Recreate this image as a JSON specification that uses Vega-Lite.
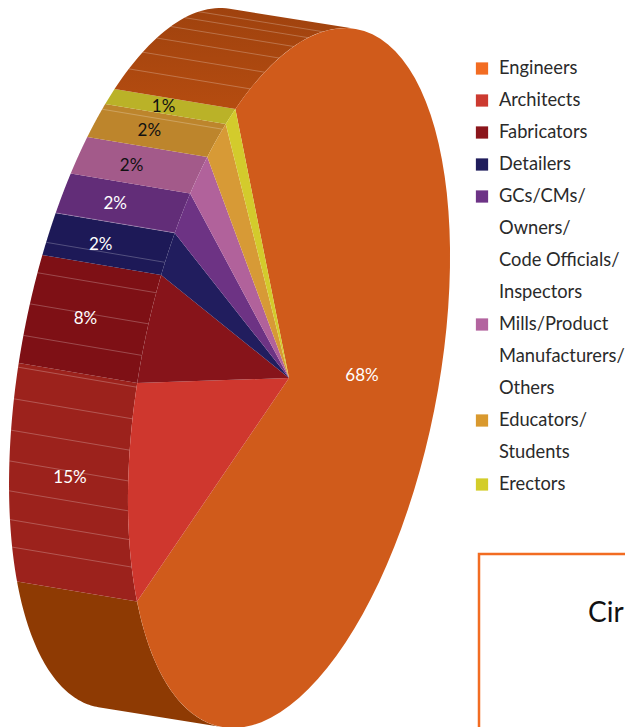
{
"$schema":"https://vega.github.io/schema/vega-lite/v6.json",
"width":625,"height":727,"padding":0,"autosize":{"type":"fit","contains":"padding"},
"background":"white",
"config":{"view":{"stroke":null},"font":"Lato","axis":{"grid":false}},
"datasets":{"shares":[
{"category":"Engineers","share":68},
{"category":"Architects","share":15},
{"category":"Fabricators","share":8},
{"category":"Detailers","share":2},
{"category":"GCs/CMs/|Owners/|Code Officials/|Inspectors","share":2},
{"category":"Mills/Product|Manufacturers/|Others","share":2},
{"category":"Educators/|Students","share":2},
{"category":"Erectors","share":1}
]},
"data":{"name":"shares"},
"transform":[
{"window":[{"op":"sum","field":"share","as":"cum"}]},
{"calculate":"datum.cum/100","as":"s1"},
{"calculate":"datum.s1-datum.share/100","as":"s0"},
{"calculate":"-39.8+360*datum.s0+(datum.s0<=0.68?25.3*datum.s0/0.68:datum.s0<=0.83?25.3-15.1*(datum.s0-0.68)/0.15:datum.s0<=0.91?10.2-10.9*(datum.s0-0.83)/0.08:-0.7*(1-datum.s0)/0.09)","as":"phi0"},
{"calculate":"-39.8+360*datum.s1+(datum.s1<=0.68?25.3*datum.s1/0.68:datum.s1<=0.83?25.3-15.1*(datum.s1-0.68)/0.15:datum.s1<=0.91?10.2-10.9*(datum.s1-0.83)/0.08:-0.7*(1-datum.s1)/0.09)","as":"phi1"}
],
"layer":[
{"transform":[
{"calculate":"max(datum.phi0,183.85)","as":"lo"},{"calculate":"datum.phi1","as":"hi"},
{"calculate":"sequence(0,122)","as":"i"},{"flatten":["i"]},
{"calculate":"datum.i<=60?datum.i/60:(121-datum.i)/60","as":"t"},
{"calculate":"(datum.lo+(datum.hi-datum.lo)*datum.t)*PI/180","as":"a"},
{"calculate":"289+56*cos(datum.a)+151*sin(datum.a)+(datum.i<=60?0:-125-6.5*sin(datum.a))","as":"px"},
{"calculate":"378-350*cos(datum.a)+(datum.i<=60?0:-20)","as":"py"}],
"mark":{"type":"line","filled":true,"strokeWidth":0},
"encoding":{
"x":{"field":"px","type":"quantitative","axis":null,"scale":{"domain":[0,625],"range":[0,625],"nice":false,"zero":false}},
"y":{"field":"py","type":"quantitative","axis":null,"scale":{"domain":[0,727],"range":[0,727],"nice":false,"zero":false}},
"order":{"field":"i"},
"fill":{"field":"category","type":"nominal","legend":null,"sort":null,"scale":{"domain":["Engineers","Architects","Fabricators","Detailers","GCs/CMs/|Owners/|Code Officials/|Inspectors","Mills/Product|Manufacturers/|Others","Educators/|Students","Erectors"],"range":["#8E3A03","#9C221C","#7E1015","#1D1957","#622D78","#A35A8A","#BD852C","#BAB228"]}}
}},
{"transform":[
{"filter":"datum.category==='Engineers'"},
{"calculate":"sequence(0,62)","as":"i"},{"flatten":["i"]},
{"calculate":"datum.i<=30?datum.i/30:(61-datum.i)/30","as":"t"},
{"calculate":"(-39.8+43.65*datum.t)*PI/180","as":"a"},
{"calculate":"289+56*cos(datum.a)+151*sin(datum.a)+(datum.i<=30?0:-125-6.5*sin(datum.a))","as":"px"},
{"calculate":"378-350*cos(datum.a)+(datum.i<=30?0:-20)","as":"py"}],
"mark":{"type":"line","filled":true,"strokeWidth":0,"fill":{"gradient":"linear","x1":0,"y1":1,"x2":0,"y2":0,"stops":[{"offset":0,"color":"#B54C10"},{"offset":1,"color":"#9F420E"}]}},
"encoding":{"x":{"field":"px","type":"quantitative"},"y":{"field":"py","type":"quantitative"},"order":{"field":"i"}}},
{"transform":[
{"filter":"datum.category==='Engineers'"},
{"calculate":"sequence(0,28)","as":"k"},{"flatten":["k"]},
{"calculate":"237.3+5.2*datum.k","as":"deg"},
{"filter":"datum.deg<297||(datum.deg>312&&datum.deg<318)||(datum.deg>321&&datum.deg<356)"},
{"calculate":"datum.deg*PI/180","as":"a"},
{"calculate":"289+56*cos(datum.a)+151*sin(datum.a)","as":"px"},
{"calculate":"378-350*cos(datum.a)","as":"py"},
{"calculate":"datum.px-125-6.5*sin(datum.a)","as":"px2"},
{"calculate":"datum.py-20","as":"py2"}],
"mark":{"type":"rule","color":"#ffffff","opacity":0.3,"strokeWidth":0.8},
"encoding":{"x":{"field":"px","type":"quantitative"},"y":{"field":"py","type":"quantitative"},"x2":{"field":"px2"},"y2":{"field":"py2"}}},
{"transform":[
{"calculate":"sequence(0,83)","as":"i"},{"flatten":["i"]},
{"calculate":"(datum.i-1)/80","as":"t"},
{"calculate":"(datum.phi0+(datum.phi1-datum.phi0)*datum.t)*PI/180","as":"a"},
{"calculate":"datum.i==0||datum.i==82?289:289+56*cos(datum.a)+151*sin(datum.a)","as":"px"},
{"calculate":"datum.i==0||datum.i==82?378:378-350*cos(datum.a)","as":"py"},
{"filter":"datum.i<=82"}],
"mark":{"type":"line","filled":true,"strokeWidth":0},
"encoding":{
"x":{"field":"px","type":"quantitative"},"y":{"field":"py","type":"quantitative"},
"order":{"field":"i"},
"fill":{"field":"category","type":"nominal","legend":null,"sort":null,"scale":{"domain":["Engineers","Architects","Fabricators","Detailers","GCs/CMs/|Owners/|Code Officials/|Inspectors","Mills/Product|Manufacturers/|Others","Educators/|Students","Erectors"],"range":["#D05B1B","#CF372E","#87141A","#211D5E","#6D3384","#B1629B","#D79A36","#D3CB2C"]}}
}},
{"transform":[
{"filter":"datum.category!=='Engineers'"},
{"calculate":"(datum.phi0+datum.phi1)/2*PI/180","as":"a"},
{"calculate":"289+56*cos(datum.a)+151*sin(datum.a)-(datum.category==='Architects'?58:datum.category==='Fabricators'?62:67)","as":"px"},
{"calculate":"378-350*cos(datum.a)-9-(datum.category==='Architects'?12:0)","as":"py"},
{"calculate":"datum.share+'%'","as":"lab"}],
"mark":{"type":"text","fontSize":17,"font":"Lato"},
"encoding":{"x":{"field":"px","type":"quantitative"},"y":{"field":"py","type":"quantitative"},"text":{"field":"lab"},
"color":{"condition":{"test":"datum.s0>=0.93","value":"#111111"},"value":"#ffffff"}}},
{"transform":[{"filter":"datum.category==='Engineers'"},{"calculate":"datum.share+'%'","as":"lab"}],
"mark":{"type":"text","fontSize":17,"font":"Lato","color":"#ffffff"},
"encoding":{"x":{"value":362},"y":{"value":376},"text":{"field":"lab"}}},
{"transform":[
{"calculate":"length(split(datum.category,'|'))","as":"n"},
{"window":[{"op":"sum","field":"n","as":"cumLines"}]},
{"calculate":"68.5+32*(datum.cumLines-datum.n)","as":"ly"}],
"mark":{"type":"point","shape":"square","filled":true,"opacity":1,"size":150,"strokeWidth":0},
"encoding":{"x":{"value":482},"y":{"field":"ly","type":"quantitative"},
"fill":{"field":"category","type":"nominal","sort":null,"legend":null,
"scale":{"domain":["Engineers","Architects","Fabricators","Detailers","GCs/CMs/|Owners/|Code Officials/|Inspectors","Mills/Product|Manufacturers/|Others","Educators/|Students","Erectors"],"range":["#F26C22","#CC3A30","#8B151B","#201D5C","#6D3386","#B3649F","#D9992E","#D3CD2A"]}}}},
{"transform":[
{"calculate":"length(split(datum.category,'|'))","as":"n"},
{"window":[{"op":"sum","field":"n","as":"cumLines"}]},
{"calculate":"60+32*(datum.cumLines-datum.n)","as":"ly"}],
"mark":{"type":"text","lineBreak":"|","lineHeight":32,"baseline":"top","align":"left","font":"Lato","fontSize":18.3,"color":"#2a2a2a"},
"encoding":{"x":{"value":499},"y":{"field":"ly","type":"quantitative"},"text":{"field":"category"}}},
{"data":{"values":[{"note":"Cir"}]},
"mark":{"type":"rect","fill":null,"stroke":"#F26C22","strokeWidth":2.5},
"encoding":{"x":{"value":479},"x2":{"value":628},"y":{"value":554},"y2":{"value":730}}},
{"data":{"values":[{"note":"Cir"}]},
"mark":{"type":"text","fontSize":28,"font":"Lato","align":"left","color":"#111111"},
"encoding":{"x":{"value":588},"y":{"value":614},"text":{"field":"note"}}}
],
"resolve":{"scale":{"fill":"independent"}}
}
